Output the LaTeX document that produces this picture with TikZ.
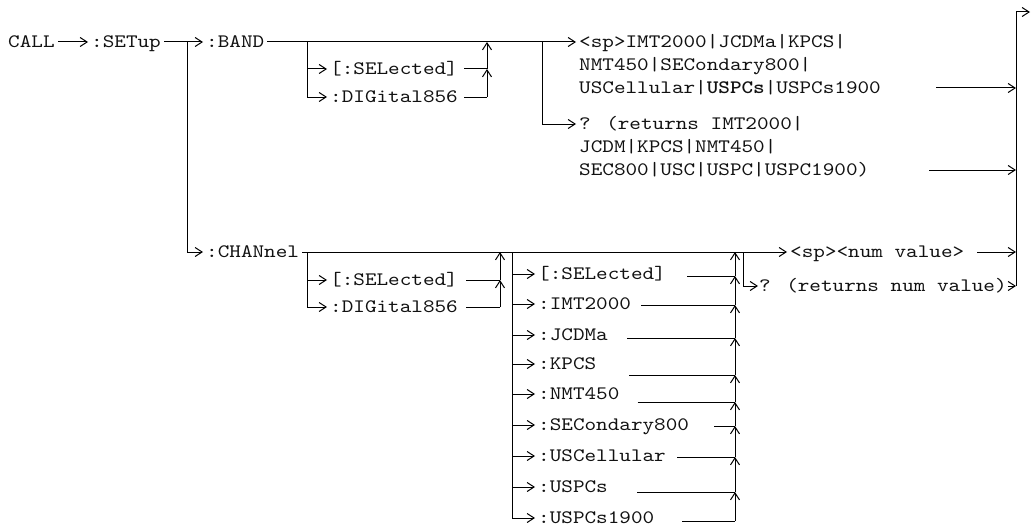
\documentclass[tikz,border=0pt]{standalone}
\usepackage{fontspec}
\usepackage{tikz}
\usetikzlibrary{arrows.meta,calc}
\newfontfamily\cmdfont{lmmono10-regular.otf}[FakeStretch=1.163,BoldFont=lmmonolt10-bold.otf]
\definecolor{cRail}{HTML}{000000}
\definecolor{cWord}{HTML}{111111}
\tikzset{
  kw/.style  ={anchor=west, inner xsep=3pt, inner ysep=0pt, text height=11.6pt,
               text depth=0pt, font=\cmdfont\fontsize{19pt}{23pt}\selectfont, text=cWord},
  rail/.style={line width=1pt, draw=cRail},
  go/.style  ={rail, -{Straight Barb[length=7pt,width=9pt]}},
}

\begin{document}
\begin{tikzpicture}[x=1pt,y=-1pt]
  \useasboundingbox (0,0) rectangle (1031,527);

  % ===== main row =====
  \node[kw] (call)  at (5,42)    {CALL};
  \node[kw] (setup) at (88,42)   {:SETup};
  \node[kw] (band)  at (203,42)  {:BAND};
  \node[kw] (chan)  at (203,252) {:CHANnel};

  % ---- junctions on the rails ----
  \coordinate (sj) at (187,42);    % SETup -> BAND / CHANnel
  \coordinate (bj) at (307,42);    % BAND optional suffix
  \coordinate (bm) at (487,42);
  \coordinate (rj) at (542,42);    % BAND query
  \coordinate (cj) at (307,252);   % CHANnel optional suffix
  \coordinate (cm) at (500,252);
  \coordinate (lj) at (512,252);   % band list
  \coordinate (lm) at (735,252);
  \coordinate (nj) at (743,252);   % CHANnel query
  \coordinate (bustop) at (1016,12);
  \coordinate (busbot) at (1016,286);
  \coordinate (exit)   at (1030,12);

  \draw[go] (call) -- (setup);
  \draw[go] (setup) -- (band);
  \draw[go] (sj) |- (chan);

  % ===== :BAND =====
  \node[kw] (bsel) at (327,69) {[:SELected]};
  \node[kw] (bdig) at (327,97) {:DIGital856};
  \draw[go] (bj) |- (bsel);
  \draw[go] (bj) |- (bdig);
  \draw[rail, shorten <=3pt] (bsel) -- (bsel -| bm);
  \draw[rail, shorten <=3pt] (bdig) -- (bdig -| bm);
  \draw[go] (bdig -| bm) -- (bsel -| bm);
  \draw[go] (bsel -| bm) -- (bm);

  % ---- setting / query text ----
  \node[kw] (bsp1)  at (576,42)  {<sp>IMT2000|JCDMa|KPCS|};
  \node[kw] (bsp2)  at (576,65)  {NMT450|SECondary800|};
  \node[kw] (bsp3)  at (576,88)  {USCellular|\textbf{USPCs}|USPCs1900};
  \node[kw] (bret1) at (576,124) {? (returns IMT2000|};
  \node[kw] (bret2) at (576,147) {JCDM|KPCS|NMT450|};
  \node[kw] (bret3) at (576,170) {SEC800|USC|USPC|USPC1900)};
  \draw[go] (band) -- (bsp1);
  \draw[go] (rj) |- (bret1);

  % ===== :CHANnel =====
  \node[kw] (csel) at (327,280) {[:SELected]};
  \node[kw] (cdig) at (327,307) {:DIGital856};
  \draw[go] (cj) |- (csel);
  \draw[go] (cj) |- (cdig);
  \draw[rail, shorten <=5pt] (csel) -- (csel -| cm);
  \draw[rail, shorten <=5pt] (cdig) -- (cdig -| cm);
  \draw[go] (cdig -| cm) -- (csel -| cm);
  \draw[go] (csel -| cm) -- (cm);

  % ---- band list ----
  \node[kw] (lsel)   at (535,274) {[:SELected]};
  \node[kw] (limt)   at (535,304) {:IMT2000};
  \node[kw] (ljcd)   at (535,335) {:JCDMa};
  \node[kw] (lkpcs)  at (535,364) {:KPCS};
  \node[kw] (lnmt)   at (535,394) {:NMT450};
  \node[kw] (lsec)   at (535,425) {:SECondary800};
  \node[kw] (lusc)   at (535,456) {:USCellular};
  \node[kw] (lpcs)   at (535,487) {:USPCs};
  \node[kw] (lpcs19) at (535,518) {:USPCs1900};
  \draw[go] (lj) |- (lpcs19);
  \draw[go] (lj |- lsel) -- (lsel);
  \draw[go] (lj |- limt) -- (limt);
  \draw[go] (lj |- ljcd) -- (ljcd);
  \draw[go] (lj |- lkpcs) -- (lkpcs);
  \draw[go] (lj |- lnmt) -- (lnmt);
  \draw[go] (lj |- lsec) -- (lsec);
  \draw[go] (lj |- lusc) -- (lusc);
  \draw[go] (lj |- lpcs) -- (lpcs);

  % merge points on the list return rail
  \coordinate (m1) at (735,276);
  \coordinate (m2) at (735,305);
  \coordinate (m3) at (735,338);
  \coordinate (m4) at (735,375);
  \coordinate (m5) at (735,402);
  \coordinate (m6) at (735,426);
  \coordinate (m7) at (735,457);
  \coordinate (m8) at (735,492);
  \coordinate (m9) at (735,521);
  \draw[rail, shorten <=18pt] (lsel.east |- m1)   -- (m1);
  \draw[rail, shorten <=7pt]  (limt.east |- m2)   -- (m2);
  \draw[rail, shorten <=16pt] (ljcd.east |- m3)   -- (m3);
  \draw[rail, shorten <=30pt] (lkpcs.east |- m4)  -- (m4);
  \draw[rail, shorten <=15pt] (lnmt.east |- m5)   -- (m5);
  \draw[rail, shorten <=22pt] (lsec.east |- m6)   -- (m6);
  \draw[rail, shorten <=8pt]  (lusc.east |- m7)   -- (m7);
  \draw[rail, shorten <=26pt] (lpcs.east |- m8)   -- (m8);
  \draw[rail, shorten <=25pt] (lpcs19.east |- m9) -- (m9);
  \draw[go] (m9) -- (m8);
  \draw[go] (m8) -- (m7);
  \draw[go] (m7) -- (m6);
  \draw[go] (m6) -- (m5);
  \draw[go] (m5) -- (m4);
  \draw[go] (m4) -- (m3);
  \draw[go] (m3) -- (m2);
  \draw[go] (m2) -- (m1);
  \draw[go] (m1) -- (lm);

  % ---- channel value / query ----
  \node[kw] (cnum) at (787,252) {<sp><num value>};
  \node[kw, inner xsep=1pt] (cret) at (758,286) {? (returns num value)};
  \draw[go] (chan) -- (cnum);
  \draw[go] (nj) |- (cret);

  % ===== closing rail =====
  \draw[rail] (busbot) -- (bustop);
  \draw[go] (bustop) -- (exit);
  \draw[go, shorten <=52pt] (bsp3) -- (bsp3 -| bustop);
  \draw[go, shorten <=57pt] (bret3) -- (bret3 -| bustop);
  \draw[go, shorten <=10pt] (cnum) -- (cnum -| busbot);
  \draw[go] (cret) -- (cret -| busbot);

\end{tikzpicture}
\end{document}
